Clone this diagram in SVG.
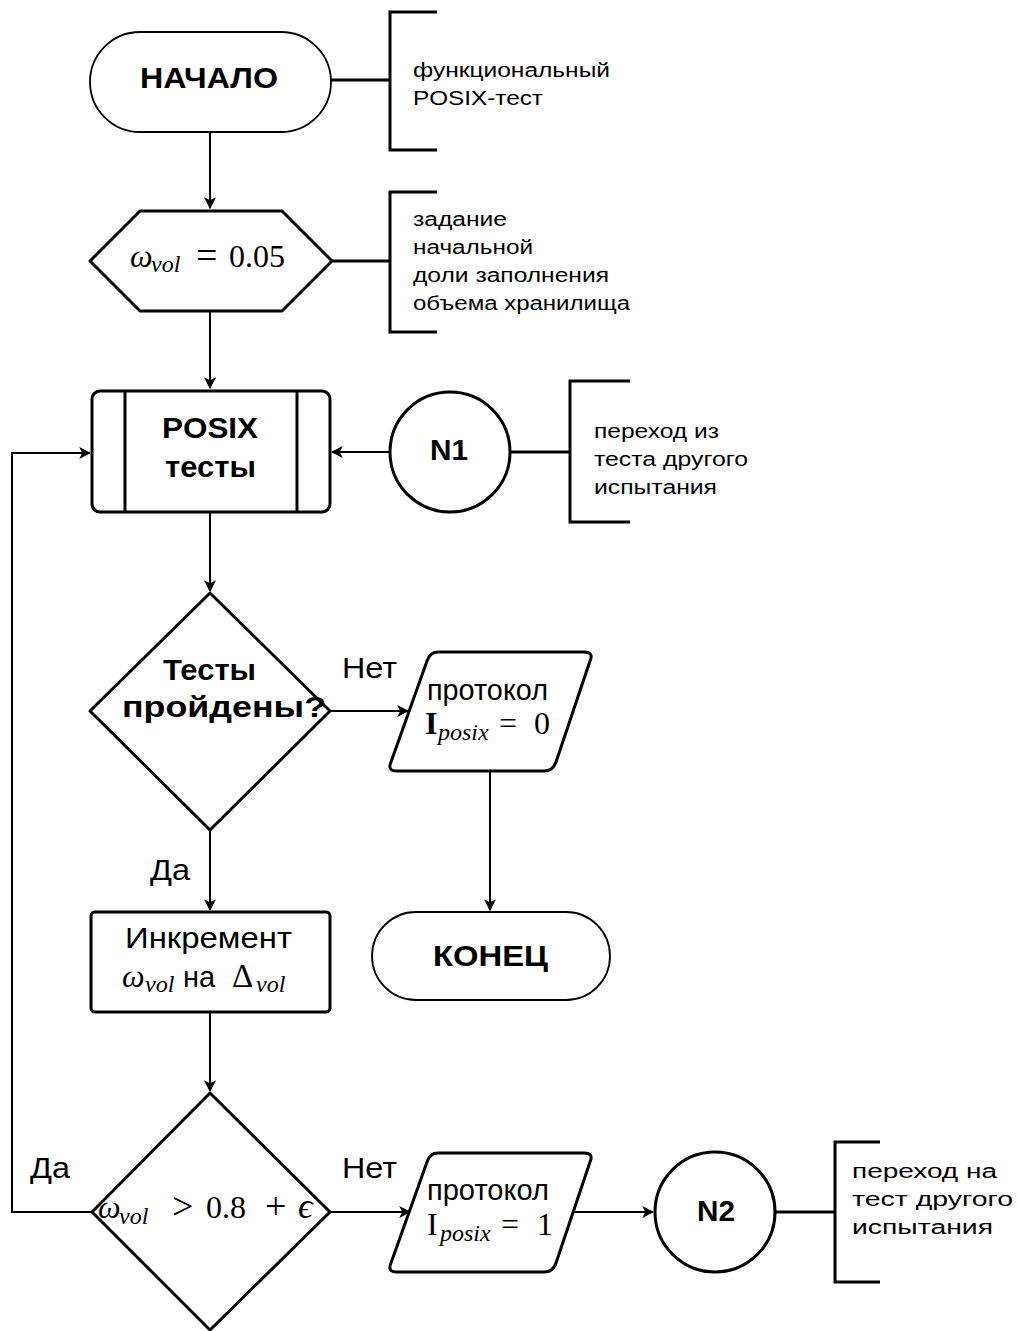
<svg xmlns="http://www.w3.org/2000/svg" width="1019" height="1331" viewBox="0 0 1019 1331">
  <style>
    .shape { fill: #ffffff; stroke: #000000; stroke-width: 3; stroke-linejoin: round; }
    .thin { fill: #ffffff; stroke: #000000; stroke-width: 1.8; }
    .conn { fill: none; stroke: #000000; stroke-width: 2; }
    .brk { fill: none; stroke: #000000; stroke-width: 3; }
    text { fill: #000000; }
    .bold { font-family: "Liberation Sans", Arial, sans-serif; font-weight: bold; font-size: 30px; }
    .reg { font-family: "Liberation Sans", Arial, sans-serif; font-size: 29px; }
    .note { font-family: "Liberation Sans", Arial, sans-serif; font-size: 19.5px; }
    .math { font-family: "Liberation Serif", "DejaVu Serif", serif; font-size: 32px; }
    .sub { font-size: 24px; font-style: italic; }
    .op { font-size: 38px; }
    .it { font-style: italic; }
  </style>
  <defs>
    <marker id="arrow" viewBox="0 0 10 10" refX="9" refY="5" markerWidth="6" markerHeight="6" orient="auto" markerUnits="strokeWidth">
      <path d="M0,0 L10,5 L0,10 L2.5,5 Z" fill="#000"/>
    </marker>
  </defs>

  <rect width="1019" height="1331" fill="#ffffff"/>

  <!-- connectors -->
  <g id="connectors">
    <line class="conn" x1="210" y1="132" x2="210" y2="208" marker-end="url(#arrow)"/>
    <line class="conn" x1="210" y1="312" x2="210" y2="388" marker-end="url(#arrow)"/>
    <line class="conn" x1="390" y1="452" x2="332" y2="452" marker-end="url(#arrow)"/>
    <line class="conn" x1="210" y1="512" x2="210" y2="591" marker-end="url(#arrow)"/>
    <line class="conn" x1="330" y1="711" x2="408" y2="711" marker-end="url(#arrow)"/>
    <line class="conn" x1="490" y1="771" x2="490" y2="910" marker-end="url(#arrow)"/>
    <line class="conn" x1="210" y1="830" x2="210" y2="910" marker-end="url(#arrow)"/>
    <line class="conn" x1="210" y1="1012" x2="210" y2="1091" marker-end="url(#arrow)"/>
    <polyline class="conn" points="92,1212 12,1212 12,453 90,453" marker-end="url(#arrow)"/>
    <line class="conn" x1="330" y1="1212" x2="410" y2="1212" marker-end="url(#arrow)"/>
    <line class="conn" x1="572" y1="1212" x2="653" y2="1212" marker-end="url(#arrow)"/>
    <!-- annotation links -->
    <line class="brk" x1="331" y1="80" x2="390" y2="80"/>
    <line class="brk" x1="332" y1="261" x2="390" y2="261"/>
    <line class="brk" x1="510" y1="452" x2="570" y2="452"/>
    <line class="brk" x1="775" y1="1212" x2="835" y2="1212"/>
  </g>

  <!-- start terminal -->
  <g id="start">
    <rect class="thin" x="90" y="32" width="241" height="100" rx="50" ry="50"/>
    <text class="bold" x="140" y="88" textLength="138" lengthAdjust="spacingAndGlyphs">НАЧАЛО</text>
  </g>

  <g id="note-start">
    <polyline class="brk" points="437,12 390,12 390,150 437,150"/>
    <text class="note" x="413" y="77" textLength="197" lengthAdjust="spacingAndGlyphs">функциональный</text>
    <text class="note" x="413" y="105" textLength="130" lengthAdjust="spacingAndGlyphs">POSIX-тест</text>
  </g>

  <!-- preparation: initial fill fraction -->
  <g id="init">
    <polygon class="shape" points="90,261 140,211 282,211 332,261 282,311 140,311"/>
    <text class="math"><tspan class="it" x="130" y="267">ω</tspan><tspan class="sub" x="151" y="272">vol</tspan><tspan class="op" x="196" y="268">=</tspan><tspan x="229" y="267">0.05</tspan></text>
  </g>

  <g id="note-init">
    <polyline class="brk" points="437,192 390,192 390,332 437,332"/>
    <text class="note" x="413" y="226" textLength="94" lengthAdjust="spacingAndGlyphs">задание</text>
    <text class="note" x="413" y="254" textLength="120" lengthAdjust="spacingAndGlyphs">начальной</text>
    <text class="note" x="413" y="282" textLength="196" lengthAdjust="spacingAndGlyphs">доли заполнения</text>
    <text class="note" x="413" y="310" textLength="217" lengthAdjust="spacingAndGlyphs">объема хранилища</text>
  </g>

  <!-- predefined process -->
  <g id="posix-tests">
    <rect class="shape" x="92" y="391" width="238" height="121" rx="8" ry="8"/>
    <line class="shape" x1="125" y1="391" x2="125" y2="512"/>
    <line class="shape" x1="297" y1="391" x2="297" y2="512"/>
    <text class="bold" x="162" y="438" textLength="96" lengthAdjust="spacingAndGlyphs">POSIX</text>
    <text class="bold" x="165" y="477" textLength="91" lengthAdjust="spacingAndGlyphs">тесты</text>
  </g>

  <g id="n1">
    <circle class="shape" cx="450" cy="452" r="60"/>
    <text class="bold" x="430" y="460" textLength="38" lengthAdjust="spacingAndGlyphs">N1</text>
  </g>

  <g id="note-n1">
    <polyline class="brk" points="630,381 570,381 570,522 630,522"/>
    <text class="note" x="594" y="438" textLength="125" lengthAdjust="spacingAndGlyphs">переход из</text>
    <text class="note" x="594" y="466" textLength="154" lengthAdjust="spacingAndGlyphs">теста другого</text>
    <text class="note" x="594" y="494" textLength="123" lengthAdjust="spacingAndGlyphs">испытания</text>
  </g>

  <!-- decision: tests passed -->
  <g id="check-tests">
    <polygon class="shape" points="210,593 330,711 210,830 90,711"/>
    <text class="bold" x="163" y="680" textLength="93" lengthAdjust="spacingAndGlyphs">Тесты</text>
    <text class="bold" x="122" y="717" textLength="204" lengthAdjust="spacingAndGlyphs">пройдены?</text>
  </g>
  <text class="reg" x="342" y="678" textLength="55" lengthAdjust="spacingAndGlyphs">Нет</text>
  <text class="reg" x="150" y="880" textLength="40" lengthAdjust="spacingAndGlyphs">Да</text>

  <g id="protocol-0">
    <path class="shape" d="M438,652 L584,652 Q594,652 590,661 L556,762 Q553,771 544,771 L397,771 Q387,771 391,762 L427,661 Q430,652 438,652 Z"/>
    <text class="reg" x="427" y="700" font-size="25" textLength="121" lengthAdjust="spacingAndGlyphs">протокол</text>
    <text class="math" font-size="31"><tspan x="425" y="734" font-weight="bold">I</tspan><tspan class="sub" x="438" y="740" font-size="25">posix</tspan><tspan x="499" y="734" font-size="32">=</tspan><tspan x="534" y="734">0</tspan></text>
  </g>

  <g id="end">
    <rect class="thin" x="372" y="912" width="238" height="88" rx="44" ry="44"/>
    <text class="bold" x="433" y="966" textLength="115" lengthAdjust="spacingAndGlyphs">КОНЕЦ</text>
  </g>

  <!-- increment process -->
  <g id="increment">
    <rect class="shape" x="91" y="912" width="239" height="100" rx="4" ry="4"/>
    <text class="reg" x="125" y="948" textLength="167" lengthAdjust="spacingAndGlyphs">Инкремент</text>
    <text class="math"><tspan class="it" x="122" y="987">ω</tspan><tspan class="sub" x="145" y="992">vol</tspan><tspan x="183" y="987" font-family="Liberation Sans, Arial, sans-serif" font-size="29">на</tspan><tspan x="232" y="987" font-size="33">Δ</tspan><tspan class="sub" x="256" y="992">vol</tspan></text>
  </g>

  <!-- decision: fill limit -->
  <g id="check-limit">
    <polygon class="shape" points="210,1093 330,1212 210,1330 92,1212"/>
    <text class="math"><tspan class="it" x="98" y="1218">ω</tspan><tspan class="sub" x="119" y="1224">vol</tspan><tspan class="op" x="172" y="1219">&gt;</tspan><tspan x="206" y="1218">0.8</tspan><tspan class="op" x="265" y="1219">+</tspan><tspan class="it" x="298" y="1218" font-size="36">ϵ</tspan></text>
  </g>
  <text class="reg" x="30" y="1178" textLength="40" lengthAdjust="spacingAndGlyphs">Да</text>
  <text class="reg" x="342" y="1178" textLength="55" lengthAdjust="spacingAndGlyphs">Нет</text>

  <g id="protocol-1">
    <path class="shape" d="M438,1153 L584,1153 Q594,1153 590,1162 L556,1263 Q553,1272 544,1272 L397,1272 Q387,1272 391,1263 L427,1162 Q430,1153 438,1153 Z"/>
    <text class="reg" x="427" y="1200" font-size="25" textLength="122" lengthAdjust="spacingAndGlyphs">протокол</text>
    <text class="math" font-size="31"><tspan x="427" y="1235">I</tspan><tspan class="sub" x="440" y="1241" font-size="25">posix</tspan><tspan x="501" y="1235" font-size="32">=</tspan><tspan x="537" y="1235">1</tspan></text>
  </g>

  <g id="n2">
    <circle class="shape" cx="715" cy="1212" r="60"/>
    <text class="bold" x="697" y="1221" textLength="38" lengthAdjust="spacingAndGlyphs">N2</text>
  </g>

  <g id="note-n2">
    <polyline class="brk" points="880,1142 835,1142 835,1282 880,1282"/>
    <text class="note" x="852" y="1178" textLength="145" lengthAdjust="spacingAndGlyphs">переход на</text>
    <text class="note" x="852" y="1206" textLength="161" lengthAdjust="spacingAndGlyphs">тест другого</text>
    <text class="note" x="852" y="1234" textLength="141" lengthAdjust="spacingAndGlyphs">испытания</text>
  </g>
</svg>
